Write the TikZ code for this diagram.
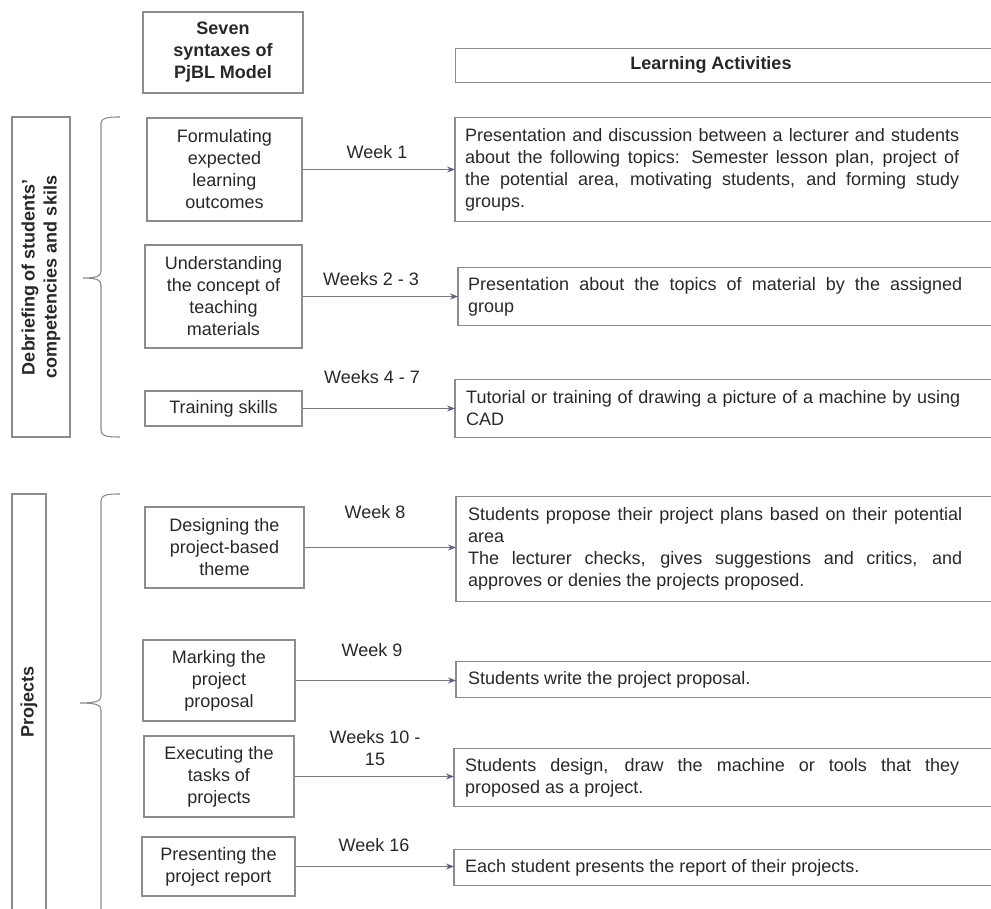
\documentclass[tikz,border=0pt]{standalone}
\usepackage{fontspec}
\setmainfont{Liberation Sans}
\usetikzlibrary{arrows.meta}
\definecolor{bordergray}{RGB}{140,140,140}
\definecolor{txt}{RGB}{40,40,40}
\definecolor{arrowc}{RGB}{115,122,132}
\definecolor{tipc}{RGB}{90,98,125}
\newcommand{\jl}[1]{\hbox to 494pt{#1}}
\begin{document}
\begin{tikzpicture}[x=1pt,y=-1pt,
  every node/.style={text=txt, font=\fontsize{18}{22}\selectfont},
  lbox/.style={draw=bordergray, line width=1.1pt, align=center, inner sep=0pt},
  boldbox/.style={lbox, font=\fontsize{18}{22}\selectfont\bfseries},
  rtext/.style={anchor=west, align=left, inner xsep=11pt, inner ysep=0pt},
  rframe/.style={draw=bordergray, line width=1.1pt},
  wk/.style={align=center, inner sep=0pt},
  arr/.style={draw=arrowc, line width=1.1pt, -{Stealth[length=8pt,width=6pt,color=tipc]}},
  brace/.style={draw=bordergray, line width=1.1pt},
]
\useasboundingbox (0,0) rectangle (991,909);
\clip (0,0) rectangle (991,909);

% headers
\node[boldbox, minimum width=160pt, minimum height=81pt] (hdr) at (223,52.5) {Seven\\syntaxes of\\PjBL Model};
\node[rframe, anchor=north west, minimum width=560pt, minimum height=34pt, inner sep=0pt] (laframe) at (455,48) {};
\node[font=\fontsize{18}{22}\selectfont\bfseries, inner sep=0pt] (la) at (711,65) {Learning Activities};

% section boxes
\node[boldbox, rotate=90, minimum width=320pt, minimum height=58pt] (s1) at (41,277) {Debriefing of students'\\competencies and skils};
\node[boldbox, rotate=90, minimum width=416pt, minimum height=34pt] (s2) at (29,702) {Projects};

% braces
\draw[brace] (120,117) .. controls (106,117) and (101,118) .. (101,124) -- (101,271)
  .. controls (101,276) and (97,278) .. (83,278)
  .. controls (97,278) and (101,280) .. (101,285) -- (101,430)
  .. controls (101,436) and (106,437) .. (120,437);
\draw[brace] (120,494) .. controls (106,494) and (101,495) .. (101,501) -- (101,696)
  .. controls (101,701) and (96,703) .. (80,703)
  .. controls (96,703) and (101,705) .. (101,710) -- (101,930);

% syntax nodes
\node[lbox, minimum width=155pt, minimum height=103pt] (n1) at (224.5,169.5) {Formulating\\expected\\learning\\outcomes};
\node[lbox, minimum width=157pt, minimum height=103pt] (n2) at (223.5,296.5) {Understanding\\the concept of\\teaching\\materials};
\node[lbox, minimum width=157pt, minimum height=35pt] (n3) at (223.5,408.5) {Training skills};
\node[lbox, minimum width=159pt, minimum height=81pt] (n4) at (224.5,547.5) {Designing the\\project-based\\theme};
\node[lbox, minimum width=152pt, minimum height=81pt] (n5) at (219,680.5) {Marking the\\project\\proposal};
\node[lbox, minimum width=150pt, minimum height=81pt] (n6) at (219,776.5) {Executing the\\tasks of\\projects};
\node[lbox, minimum width=153pt, minimum height=59pt] (n7) at (218.5,866.5) {Presenting the\\project report};

% activity nodes
\node[rtext, minimum height=103pt, inner xsep=10pt] (r1) at (455,169.5) {\jl{Presentation and discussion between a lecturer and students}\\\jl{about the following topics: Semester lesson plan, project of}\\\jl{the potential area, motivating students, and forming study}\\groups.};
\node[rtext, minimum height=57pt, inner xsep=10pt] (r2) at (458,296.5) {\jl{Presentation about the topics of material by the assigned}\\group};
\node[rtext, minimum height=57pt] (r3) at (455,408.5) {\jl{Tutorial or training of drawing a picture of a machine by using}\\CAD};
\node[rtext, minimum height=104pt, inner xsep=12pt] (r4) at (456,549) {\jl{Students propose their project plans based on their potential}\\area\\\jl{The lecturer checks, gives suggestions and critics, and}\\approves or denies the projects proposed.};
\node[rtext, minimum height=35pt, inner xsep=12pt] (r5) at (456,679.5) {Students write the project proposal.};
\node[rtext, minimum height=57pt] (r6) at (454,777.5) {\jl{Students design, draw the machine or tools that they}\\proposed as a project.};
\node[rtext, minimum height=35pt] (r7) at (454,867.5) {Each student presents the report of their projects.};

\foreach \r in {r1,r2,r3,r4,r5,r6,r7}{
  \draw[rframe] (\r.north west) rectangle ([xshift=600pt]\r.south west);
}

% week labels
\node[wk] (w1) at (377,152) {Week 1};
\node[wk] (w2) at (371,279) {Weeks 2 - 3};
\node[wk] (w3) at (372,377) {Weeks 4 - 7};
\node[wk] (w4) at (375,512) {Week 8};
\node[wk] (w5) at (372,650) {Week 9};
\node[wk] (w6) at (375,748.5) {Weeks 10 -\\15};
\node[wk] (w7) at (374,845) {Week 16};

% connectors
\foreach \i in {1,...,7}{
  \draw[arr] (n\i.east) -- (n\i.east -| r\i.west);
}
\end{tikzpicture}
\end{document}
